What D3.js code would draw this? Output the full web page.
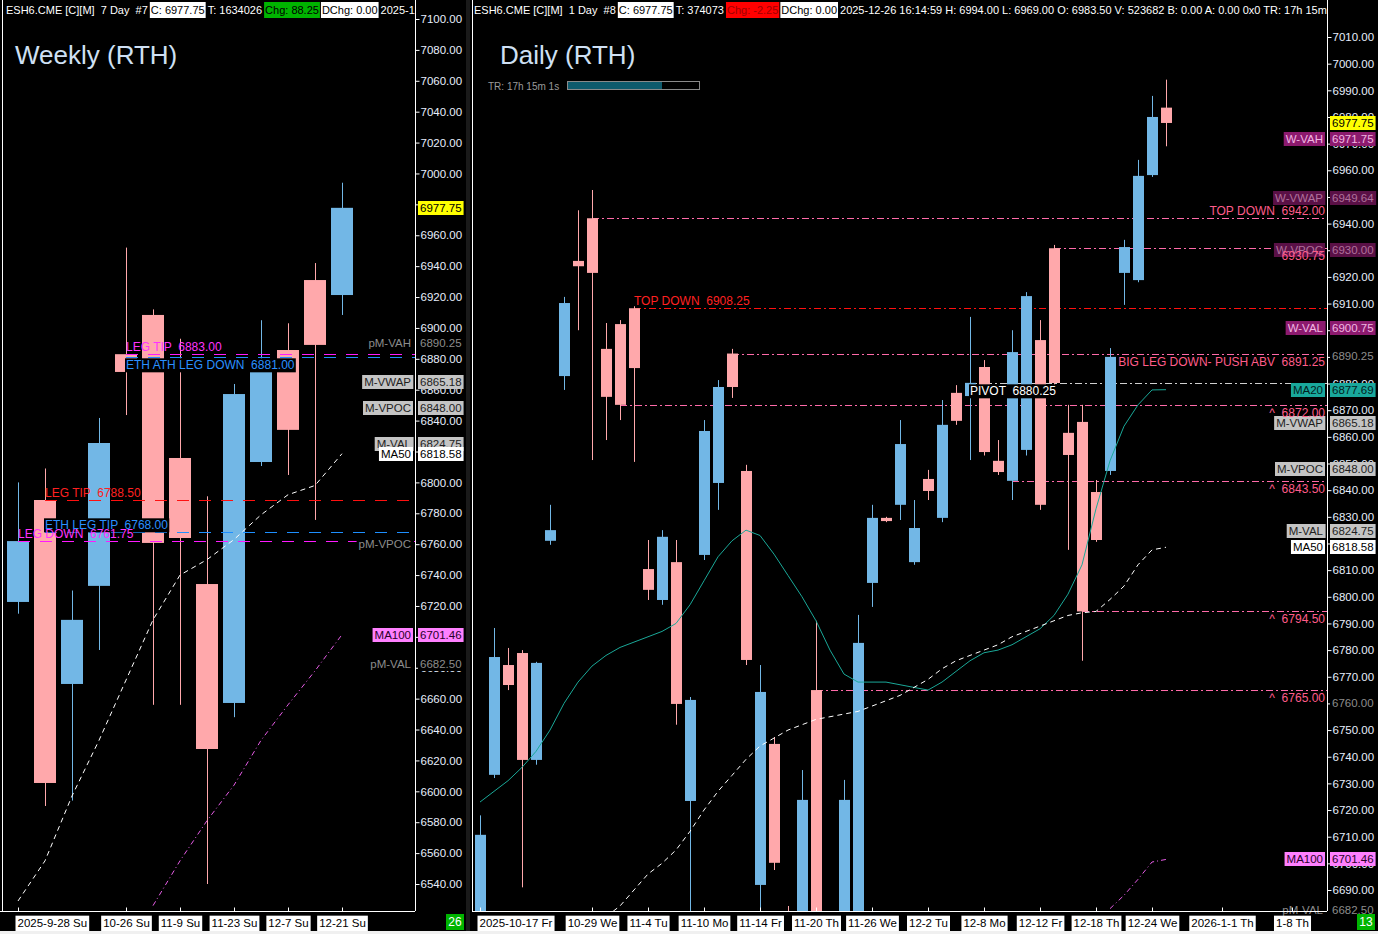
<!DOCTYPE html>
<html>
<head>
<meta charset="utf-8">
<script src="https://cdn.jsdelivr.net/npm/d3@7"></script>
<style>
  body { margin: 0; background: #000; overflow: hidden; }
  svg { display: block; }
  text { font-family: "Liberation Sans", Arial, sans-serif; white-space: pre; }
</style>
</head>
<body>
<svg id="chart"></svg>
<script>
// ---------- weekly (RTH) ----------
var weekDates = ["9-28","10-5","10-12","10-19","10-26","11-2","11-9","11-16","11-23","11-30","12-7","12-14","12-21"];
var weekOpen  = [6722.6, 6788.6, 6669.5, 6733.0, 6883.0, 6908.4, 6815.8, 6734.2, 6657.2, 6813.2, 6885.7, 6931.0, 6921.3];
var weekHigh  = [6800.0, 6809.0, 6730.0, 6841.7, 6952.0, 6912.0, 6893.0, 6791.0, 6863.7, 6905.0, 6903.0, 6942.0, 6994.0];
var weekLow   = [6715.0, 6590.5, 6594.0, 6691.5, 6843.6, 6656.0, 6656.0, 6540.0, 6648.0, 6810.6, 6804.8, 6775.7, 6908.4];
var weekClose = [6762.0, 6605.4, 6711.0, 6825.5, 6871.5, 6760.8, 6764.0, 6627.4, 6857.2, 6871.5, 6834.0, 6889.0, 6977.75];
var weekMA50  = [6529, 6555, 6597, 6633, 6672, 6711, 6740, 6750, 6763, 6779, 6792, 6798, 6818.58];
var weekMA100 = [null, null, null, null, null, 6526, 6555, 6581, 6604, 6633, 6656, 6678, 6701.46];
var weekTickIdx  = [0, 4, 6, 8, 10, 12];
var weekTickText = ["2025-9-28 Su", "10-26 Su", "11-9 Su", "11-23 Su", "12-7 Su", "12-21 Su"];

var weekLevelName  = ["LEG TIP", "ETH ATH LEG DOWN", "LEG TIP", "ETH LEG TIP", "LEG DOWN"];
var weekLevelValue = [6883.00, 6881.00, 6788.50, 6768.00, 6761.75];
var weekLevelFrom  = [4, 4, 1, 1, 0];
var weekLevelKind  = ["magenta", "blue", "red", "blue", "magenta"];

var weekTagName  = ["", "pM-VAH", "M-VWAP", "M-VPOC", "M-VAL", "MA50", "pM-VPOC", "MA100", "pM-VAL"];
var weekTagValue = [6977.75, 6890.25, 6865.18, 6848.00, 6824.75, 6818.58, null, 6701.46, 6682.50];
var weekTagKind  = ["last", "ghost", "mval", "mval", "mval", "ma50", "ghost", "ma100", "ghost"];

// ---------- daily (RTH) ----------
var dayDates = ["10-17","10-20","10-21","10-22","10-23","10-24","10-27","10-28","10-29","10-30","10-31",
  "11-3","11-4","11-5","11-6","11-7","11-10","11-11","11-12","11-13","11-14","11-17","11-18","11-19","11-20","11-21",
  "11-24","11-25","11-26","11-27","11-28","12-1","12-2","12-3","12-4","12-5","12-8","12-9","12-10","12-11","12-12",
  "12-15","12-16","12-17","12-18","12-19","12-22","12-23","12-24","12-26"];
var dayOpen  = [6670, 6733.2, 6774.4, 6778.9, 6738.8, 6821.0, 6882.8, 6926.0, 6942.0, 6893.0, 6902.3,
  6908.25, 6810.4, 6798.8, 6813.0, 6723.4, 6815.7, 6842.7, 6891.25, 6847.2, 6691.9, 6744.8, 6676, 6670, 6765.0, 6650,
  6670, 6675, 6805.2, 6829.6, 6834.5, 6813.0, 6844.2, 6829.6, 6876.5, 6875.3, 6886.2, 6851.0, 6843.5, 6855.1, 6896.3,
  6930.75, 6861.5, 6865.6, 6839.3, 6847.2, 6921.5, 6918.8, 6958.2, 6983.5];
var dayHigh  = [6718, 6788.3, 6780.8, 6780.0, 6775.6, 6834.5, 6912.5, 6945.0, 6952.6, 6902.7, 6903.8,
  6909.0, 6821.3, 6825.0, 6821.3, 6762.4, 6866.3, 6881.3, 6893.0, 6849.5, 6774.4, 6747.4, 6684, 6735, 6791.0, 6680,
  6731.3, 6793.2, 6834.5, 6830.0, 6866.3, 6836.3, 6847.6, 6873.8, 6879.4, 6905.0, 6888.8, 6858.8, 6900.0, 6914.3, 6903.8,
  6932.0, 6872.0, 6872.0, 6843.8, 6893.3, 6933.9, 6963.9, 6987.9, 6994.0];
var dayLow   = [6660, 6732.0, 6765.0, 6691.0, 6737.0, 6819.5, 6877.6, 6900.0, 6851.3, 6858.8, 6866.3,
  6850.6, 6798.8, 6797.0, 6752.0, 6670, 6813.8, 6832.6, 6874.6, 6774.4, 6672, 6697.5, 6650, 6660, 6660, 6640,
  6665, 6670, 6796.2, 6828.0, 6828.8, 6812.0, 6836.3, 6828.0, 6864.5, 6851.3, 6853.0, 6845.7, 6836.3, 6853.0, 6832.6,
  6877.6, 6817.6, 6776.0, 6820.6, 6845.7, 6909.5, 6918.0, 6957.5, 6969.0];
var dayClose = [6710.7, 6777.4, 6766.9, 6738.8, 6775.2, 6825.0, 6910.2, 6924.0, 6921.5, 6875.0, 6872.0,
  6885.8, 6802.6, 6822.5, 6759.8, 6761.3, 6862.2, 6878.7, 6878.7, 6776.3, 6764.3, 6700.2, 6660, 6723.8, 6660, 6680,
  6723.8, 6782.7, 6829.6, 6828.4, 6857.3, 6825.8, 6839.7, 6864.5, 6866.0, 6880.25, 6854.3, 6846.8, 6891.8, 6912.8, 6834.5,
  6880.2, 6853.2, 6794.5, 6821.3, 6890.0, 6931.2, 6957.9, 6980.0, 6977.75];
var dayMA20 = [6723, 6727, 6731, 6736, 6742, 6750, 6760, 6768, 6774, 6778, 6781, 6783, 6785, 6787, 6790, 6797,
  6806, 6815, 6821, 6825, 6823, 6816, 6808, 6800, 6791, 6780, 6771, 6768, 6768, 6768, 6767, 6766, 6765, 6768, 6772,
  6776, 6779, 6780, 6782, 6785, 6788, 6793, 6801, 6812, 6833, 6851, 6864, 6872, 6877.6, 6877.69];
var dayMA50 = [null, null, null, null, null, null, null, null, null, 6680, 6684, 6690, 6696, 6700, 6705, 6712,
  6720, 6727, 6733, 6739, 6744, 6747, 6750, 6752, 6754, 6755, 6756, 6757, 6759, 6761, 6763, 6766, 6769, 6773, 6776,
  6778, 6780, 6782, 6785, 6787, 6789, 6791, 6793, 6794, 6794.5, 6799, 6804, 6812, 6817.6, 6818.58];
var dayMA100 = [null, null, null, null, null, null, null, null, null, null, null, null, null, null, null, null,
  null, null, null, null, null, null, null, null, null, null, null, null, null, null, null, null, null, null, null,
  null, null, null, null, null, null, null, null, null, null, 6683, 6688, 6694, 6700.5, 6701.46];
var dayTickIdx  = [0, 8, 12, 16, 20, 24, 28, 32, 36, 40, 44, 48, 53, 58];
var dayTickText = ["2025-10-17 Fr", "10-29 We", "11-4 Tu", "11-10 Mo", "11-14 Fr", "11-20 Th", "11-26 We",
  "12-2 Tu", "12-8 Mo", "12-12 Fr", "12-18 Th", "12-24 We", "2026-1-1 Th", "1-8 Th"];

var dayLevelName  = ["TOP DOWN", "", "TOP DOWN", "BIG LEG DOWN- PUSH ABV", "PIVOT", "^", "^", "^", "^"];
var dayLevelValue = [6942.00, 6930.75, 6908.25, 6891.25, 6880.25, 6872.00, 6843.50, 6794.50, 6765.00];
var dayLevelFrom  = [8, 41, 11, 18, 35, 10, 38, 43, 24];
var dayLevelKind  = ["pink", "pink", "dred", "pink", "white", "pink", "pink", "pink", "pink"];

var dayTagName  = ["", "W-VAH", "W-VWAP", "W-VPOC", "W-VAL", "", "MA20", "M-VWAP", "M-VPOC", "M-VAL", "MA50", "", "MA100", "pM-VAL"];
var dayTagValue = [6977.75, 6971.75, 6949.64, 6930.00, 6900.75, 6890.25, 6877.69, 6865.18, 6848.00, 6824.75, 6818.58, 6760.00, 6701.46, 6682.50];
var dayTagKind  = ["last", "wk", "wkd", "wkd", "wk", "ghost", "ma20", "mval", "mval", "mval", "ma50", "ghost", "ma100", "ghost"];

var weekHeader = ["ESH6.CME [C][M]  7 Day  #7", "C: 6977.75", "T: 1634026", "Chg: 88.25", "DChg: 0.00", "2025-12-26 16:14:59 H: 6994.00"];
var dayHeader  = ["ESH6.CME [C][M]  1 Day  #8", "C: 6977.75", "T: 374073", "Chg: -2.25", "DChg: 0.00",
  "2025-12-26 16:14:59 H: 6994.00 L: 6969.00 O: 6983.50 V: 523682 B: 0.00 A: 0.00 0x0 TR: 17h 15m 1s"];

// ---------- drawing ----------
var width = 1378, height = 934, bottom = 911;
var upColor = "#72b7e6", downColor = "#ffa8ab";

var levelStyle = {
  magenta: {stroke: "#ff1aff", text: "#ff33ff", dash: "12,10"},
  blue:    {stroke: "#1e8fff", text: "#2a90ff", dash: "12,10"},
  red:     {stroke: "#ff1010", text: "#ff2020", dash: "12,10"},
  dred:    {stroke: "#ff1010", text: "#ff2020", dash: "7,3,2,3"},
  pink:    {stroke: "#ff6aa8", text: "#ff5c8a", dash: "7,3,2,3"},
  white:   {stroke: "#d0d0d0", text: "#ffffff", dash: "7,3,2,3"}
};
var tagStyle = {
  last:  {bg: "#ffff00", fg: "#000"},
  ghost: {bg: "#000", fg: "#8c8c8c"},
  mval:  {bg: "#c4c4c4", fg: "#1e1e1e"},
  ma50:  {bg: "#ffffff", fg: "#000"},
  ma100: {bg: "#ff80ff", fg: "#2a002a"},
  ma20:  {bg: "#19a89c", fg: "#032020"},
  wk:    {bg: "#8c1a6e", fg: "#f2b6e2"},
  wkd:   {bg: "#5a1046", fg: "#b0709c"}
};

var svg = d3.select("#chart").attr("width", width).attr("height", height);
svg.append("rect").attr("width", width).attr("height", height).attr("fill", "#000");

var weekX = d3.scaleLinear().domain([0, 12]).range([18, 342]);
var weekY = d3.scaleLinear().domain([6540, 7100]).range([884, 19]);
var dayX = d3.scaleLinear().domain([0, 58]).range([480, 1292]);
var dayY = d3.scaleLinear().domain([6690, 7010]).range([890, 37]);

var defs = svg.append("defs");
defs.append("clipPath").attr("id", "clipW").append("rect").attr("x", 3).attr("y", 0).attr("width", 412).attr("height", bottom);
defs.append("clipPath").attr("id", "clipD").append("rect").attr("x", 473).attr("y", 0).attr("width", 854).attr("height", bottom);
defs.append("clipPath").attr("id", "clipHW").append("rect").attr("x", 0).attr("y", 0).attr("width", 415).attr("height", 20);
defs.append("clipPath").attr("id", "clipHD").append("rect").attr("x", 472).attr("y", 0).attr("width", 855).attr("height", 20);

function drawCandles(g, x, y, o, h, l, c, bw) {
  var idx = d3.range(o.length);
  var col = function(i) { return c[i] >= o[i] ? upColor : downColor; };
  g.selectAll(null).data(idx).enter().append("line")
    .attr("x1", i => Math.round(x(i)) + 0.5).attr("x2", i => Math.round(x(i)) + 0.5)
    .attr("y1", i => y(h[i])).attr("y2", i => y(l[i]))
    .attr("stroke", col);
  g.selectAll(null).data(idx).enter().append("rect")
    .attr("x", i => Math.round(x(i)) - Math.floor(bw / 2))
    .attr("width", bw)
    .attr("y", i => y(Math.max(o[i], c[i])))
    .attr("height", i => Math.max(1, Math.abs(y(o[i]) - y(c[i]))))
    .attr("fill", col);
}

function drawMA(g, x, y, vals, color, dash) {
  g.append("path")
    .datum(vals.map((v, i) => [i, v]))
    .attr("d", d3.line().defined(d => d[1] != null).x(d => x(d[0])).y(d => y(d[1])))
    .attr("fill", "none").attr("stroke", color).attr("stroke-width", 1)
    .attr("stroke-dasharray", dash);
}

function drawLevelLines(g, x, y, axisX, vals, from, kinds) {
  vals.forEach(function(v, i) {
    var st = levelStyle[kinds[i]], yy = Math.round(y(v)) + 0.5;
    g.append("line").attr("x1", x(from[i])).attr("x2", axisX).attr("y1", yy).attr("y2", yy)
      .attr("stroke", st.stroke).attr("stroke-dasharray", st.dash);
  });
}

function labelText(g, x, yc, str, color, anchor, bg) {
  var t = g.append("text").attr("x", x).attr("y", yc).attr("dy", "0.36em")
    .attr("text-anchor", anchor).attr("fill", color).style("font-size", "12px").text(str);
  if (bg) {
    var b = t.node().getBBox();
    g.insert("rect", () => t.node()).attr("x", b.x - 1).attr("y", b.y).attr("width", b.width + 2)
      .attr("height", b.height).attr("fill", bg);
  }
}

function box(g, x, yc, str, st, anchor) {
  var t = g.append("text").attr("x", x).attr("y", yc).attr("dy", "0.36em").attr("text-anchor", anchor)
    .attr("fill", st.fg).style("font-size", "11.5px").text(str);
  var b = t.node().getBBox();
  g.insert("rect", () => t.node()).attr("x", b.x - 2).attr("y", yc - 7).attr("width", b.width + 4)
    .attr("height", 14).attr("fill", st.bg);
}

function drawTags(g, y, axisX, names, values, kinds) {
  names.forEach(function(name, i) {
    var st = tagStyle[kinds[i]];
    var v = values[i] == null ? 6760 : values[i];
    var yy = Math.round(y(v));
    if (name) box(g, axisX - 4, yy, name, st, "end");
    if (values[i] != null) box(g, axisX + 5, yy, d3.format(".2f")(values[i]), st, "start");
  });
}

function drawYAxis(g, y, axisX, ticks) {
  g.append("line").attr("x1", axisX + 0.5).attr("x2", axisX + 0.5).attr("y1", 0).attr("y2", bottom)
    .attr("stroke", "#fff");
  var a = g.append("g").attr("transform", "translate(" + (axisX + 0.5) + ",0)")
    .call(d3.axisRight(y).tickValues(ticks).tickFormat(d3.format(".2f")).tickSize(4).tickPadding(1));
  a.select(".domain").remove();
  a.selectAll(".tick line").attr("stroke", "#fff");
  a.selectAll(".tick text").attr("fill", "#e6eefc")
    .style("font-size", "11.5px").style("font-family", "'Liberation Sans', Arial, sans-serif");
}

function drawXAxis(g, x, x0, x1, idx, labels) {
  g.append("line").attr("x1", x0).attr("x2", x1).attr("y1", bottom + 0.5).attr("y2", bottom + 0.5)
    .attr("stroke", "#fff");
  var a = g.append("g").attr("transform", "translate(0," + (bottom + 0.5) + ")")
    .call(d3.axisBottom(x).tickValues(idx).tickFormat((d, i) => labels[i]).tickSize(4).tickPadding(3));
  a.select(".domain").remove();
  a.selectAll(".tick line").attr("stroke", "#fff").attr("transform", "translate(0,-4)");
  a.selectAll(".tick text").attr("fill", "#000")
    .style("font-size", "11.5px").style("font-family", "'Liberation Sans', Arial, sans-serif")
    .each(function(d, i) {
      if (i === 0) d3.select(this).attr("text-anchor", "start").attr("x", -1);
      var b = this.getBBox();
      d3.select(this.parentNode).insert("rect", () => this)
        .attr("x", b.x - 2).attr("y", b.y - 1).attr("width", b.width + 4).attr("height", 16).attr("fill", "#fff");
    });
}

function drawHeader(g, x0, parts, chgBg, chgFg) {
  var x = x0;
  var styles = [null, {bg: "#fff", fg: "#000"}, null, {bg: chgBg, fg: chgFg}, {bg: "#fff", fg: "#000"}, null];
  parts.forEach(function(p, i) {
    var st = styles[i] || {bg: null, fg: "#fff"};
    var t = g.append("text").attr("x", x + 1).attr("y", 14).attr("fill", st.fg)
      .style("font-size", "11px").text(p);
    var w = t.node().getComputedTextLength();
    if (st.bg) g.insert("rect", () => t.node()).attr("x", x).attr("y", 2).attr("width", w + 2).attr("height", 16).attr("fill", st.bg);
    x += w + 3;
  });
}

// ---------- weekly panel ----------
var gw = svg.append("g");
gw.append("line").attr("x1", 2.5).attr("x2", 2.5).attr("y1", 0).attr("y2", bottom).attr("stroke", "#fff");
var pw = gw.append("g").attr("clip-path", "url(#clipW)");
drawCandles(pw, weekX, weekY, weekOpen, weekHigh, weekLow, weekClose, 22);
drawLevelLines(pw, weekX, weekY, 415, weekLevelValue, weekLevelFrom, weekLevelKind);
drawMA(pw, weekX, weekY, weekMA50, "#ffffff", "5,4");
drawMA(pw, weekX, weekY, weekMA100, "#e65ce6", "5,3,1,3");
weekLevelValue.forEach(function(v, i) {
  var st = levelStyle[weekLevelKind[i]];
  var below = weekLevelName[i] === "ETH ATH LEG DOWN";
  var bg = weekLevelKind[i] === "blue" ? "#000" : null;
  labelText(pw, weekX(weekLevelFrom[i]), Math.round(weekY(v)) + (below ? 8 : -7),
    weekLevelName[i] + "  " + d3.format(".2f")(v), st.text, "start", bg);
});
gw.append("text").attr("x", 15).attr("y", 64).attr("fill", "#cfe0f4").style("font-size", "26px").text("Weekly (RTH)");
drawYAxis(gw, weekY, 415, d3.range(6540, 7101, 20));
drawTags(gw, weekY, 415, weekTagName, weekTagValue, weekTagKind);
drawXAxis(gw, weekX, 0, 415, weekTickIdx, weekTickText);
drawHeader(gw.append("g").attr("clip-path", "url(#clipHW)"), 5, weekHeader, "#00b400", "#000");

// ---------- daily panel ----------
var gd = svg.append("g");
gd.append("rect").attr("x", 466).attr("y", 0).attr("width", 4).attr("height", height).attr("fill", "#1a1a1a");
gd.append("line").attr("x1", 472.5).attr("x2", 472.5).attr("y1", 0).attr("y2", bottom).attr("stroke", "#fff");
var pd = gd.append("g").attr("clip-path", "url(#clipD)");
drawLevelLines(pd, dayX, dayY, 1327, dayLevelValue, dayLevelFrom, dayLevelKind);
drawCandles(pd, dayX, dayY, dayOpen, dayHigh, dayLow, dayClose, 11);
drawMA(pd, dayX, dayY, dayMA20, "#1aa898", null);
drawMA(pd, dayX, dayY, dayMA50, "#ffffff", "5,4");
drawMA(pd, dayX, dayY, dayMA100, "#e65ce6", "5,3,1,3");
gd.append("text").attr("x", 500).attr("y", 64).attr("fill", "#cfe0f4").style("font-size", "26px").text("Daily (RTH)");
gd.append("text").attr("x", 488).attr("y", 90).attr("fill", "#9a9a9a").style("font-size", "10px").text("TR: 17h 15m 1s");
gd.append("rect").attr("x", 567.5).attr("y", 81.5).attr("width", 132).attr("height", 8).attr("fill", "none").attr("stroke", "#8a8a8a");
gd.append("rect").attr("x", 568).attr("y", 82).attr("width", 94).attr("height", 7).attr("fill", "#0e5a6c");
drawYAxis(gd, dayY, 1327, d3.range(6690, 7011, 10));
drawTags(gd, dayY, 1327, dayTagName, dayTagValue, dayTagKind);
dayLevelValue.forEach(function(v, i) {
  var st = levelStyle[dayLevelKind[i]], yy = Math.round(dayY(v));
  var txt = (dayLevelName[i] ? dayLevelName[i] + "  " : "") + d3.format(".2f")(v);
  if (dayLevelKind[i] === "dred") labelText(gd, dayX(dayLevelFrom[i]), yy - 7, txt, st.text, "start", null);
  else if (dayLevelKind[i] === "white") labelText(gd, dayX(dayLevelFrom[i]), yy + 8, txt, st.text, "start", "#000");
  else labelText(gd, 1325, yy + (i === 0 ? -7 : 8), txt, st.text, "end", null);
});
drawXAxis(gd, dayX, 472, 1327, dayTickIdx, dayTickText);
drawHeader(gd.append("g").attr("clip-path", "url(#clipHD)"), 473, dayHeader, "#ff0000", "#a00000");

// bar counters
[[446, "26"], [1357, "13"]].forEach(function(c) {
  svg.append("rect").attr("x", c[0]).attr("y", 914).attr("width", 18).attr("height", 16).attr("fill", "#00b400");
  svg.append("text").attr("x", c[0] + 9).attr("y", 926).attr("text-anchor", "middle").attr("fill", "#fff")
    .style("font-size", "12px").text(c[1]);
});
svg.append("rect").attr("x", 0).attr("y", 931).attr("width", width).attr("height", 3).attr("fill", "#f0f0f0");
</script>
</body>
</html>
